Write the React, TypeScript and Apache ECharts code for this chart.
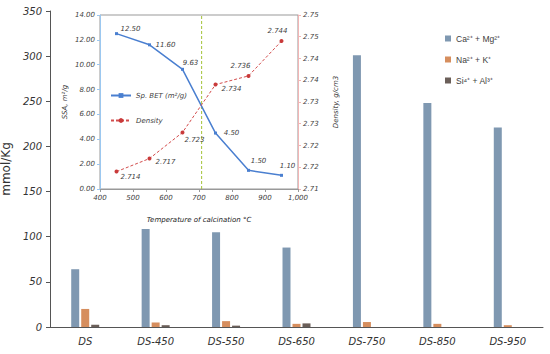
import React, { useEffect, useRef } from "react";
import * as echarts from "echarts";

const categories = ["DS", "DS-450", "DS-550", "DS-650", "DS-750", "DS-850", "DS-950"];
const caMg = [64, 108.5, 105, 88, 301, 248, 221];
const naK = [20, 5, 6.5, 3.5, 5.5, 3.5, 2];
const siAl = [2.5, 2, 1.5, 4, 0, 0, 0];
const seriesNames = ["Ca²⁺ + Mg²⁺", "Na²⁺ + K⁺", "Si⁴⁺ + Al³⁺"];
const mainTicks = [0, 50, 100, 150, 200, 250, 300, 350];

const temps = [450, 550, 650, 750, 850, 950];
const ssa = [12.5, 11.6, 9.63, 4.5, 1.5, 1.1];
const density = [2.714, 2.717, 2.723, 2.734, 2.736, 2.744];
const ssaLabels = ["12.50", "11.60", "9.63", "4.50", "1.50", "1.10"];
const densityLabels = ["2.714", "2.717", "2.723", "2.734", "2.736", "2.744"];
const crossTemp = 708;
const ssaRange = [0, 14];

const ssaLabelOffsets: [number, number][] = [
  [14, -5], [16, 0], [8, -6], [16, 0], [10, -9], [6, -9],
];
const densityLabelOffsets: [number, number][] = [
  [14, 5], [16, 3], [12, 8], [16, 4], [-8, -10], [-4, -10],
];

const FONT = "DejaVu Sans";

export default function App() {
  const ref = useRef<HTMLDivElement>(null);
  useEffect(() => {
    if (!ref.current) return;
    const chart = echarts.init(ref.current, null, { renderer: "svg" });
    const inLabel = { fontFamily: FONT, fontStyle: "italic" as const, fontSize: 7, color: "#404040" };
    chart.setOption({
      animation: false,
      backgroundColor: "#fff",
      legend: [
        {
          data: seriesNames,
          orient: "vertical",
          left: 440,
          top: 29,
          itemWidth: 6,
          itemHeight: 6,
          itemGap: 12,
          icon: "rect",
          textStyle: { fontFamily: "Liberation Sans", fontSize: 8.5, color: "#404040" },
        },
        {
          data: ["Sp. BET (m²/g)", "Density"],
          orient: "vertical",
          left: 105,
          top: 87,
          itemWidth: 20,
          itemHeight: 6,
          itemGap: 18,
          textStyle: { ...inLabel, fontSize: 7 },
        },
      ],
      grid: [
        { left: 50, top: 11, width: 493, height: 316, outerBoundsMode: "none", containLabel: false },
        {
          left: 100, top: 15, width: 198, height: 174, outerBoundsMode: "none", containLabel: false,
          show: true, borderColor: "#999", borderWidth: 1, backgroundColor: "transparent",
        },
      ],
      xAxis: [
        {
          type: "category",
          gridIndex: 0,
          data: categories,
          axisLine: { lineStyle: { color: "#555" } },
          axisTick: { length: 4, lineStyle: { color: "#555" } },
          axisLabel: { fontFamily: FONT, fontStyle: "italic", fontSize: 10, color: "#333", margin: 9 },
        },
        {
          type: "value",
          gridIndex: 1,
          min: 400,
          max: 1000,
          interval: 100,
          name: "Temperature of calcination °C",
          nameLocation: "middle",
          nameGap: 27,
          nameTextStyle: { ...inLabel, fontSize: 7, color: "#222" },
          splitLine: { show: false },
          axisLine: { lineStyle: { color: "#999" } },
          axisTick: { length: 3, lineStyle: { color: "#999" } },
          axisLabel: { ...inLabel, margin: 5 },
        },
      ],
      yAxis: [
        {
          type: "value",
          gridIndex: 0,
          min: mainTicks[0],
          max: mainTicks[mainTicks.length - 1],
          interval: 50,
          name: "mmol/Kg",
          nameLocation: "middle",
          nameGap: 36,
          nameTextStyle: { fontFamily: FONT, fontSize: 12, color: "#333" },
          splitLine: { show: false },
          axisLine: { show: true, lineStyle: { color: "#555" } },
          axisTick: { show: true, length: 4, lineStyle: { color: "#555" } },
          axisLabel: { fontFamily: FONT, fontStyle: "italic", fontSize: 10, color: "#333", margin: 8 },
        },
        {
          type: "value",
          gridIndex: 1,
          min: ssaRange[0],
          max: ssaRange[1],
          interval: 2,
          name: "SSA, m²/g",
          nameLocation: "middle",
          nameGap: 32,
          nameTextStyle: { ...inLabel, fontSize: 7 },
          splitLine: { show: false },
          axisLine: { show: true, lineStyle: { color: "#9cc8f0" } },
          axisTick: { show: true, length: 3, lineStyle: { color: "#9cc8f0" } },
          axisLabel: { ...inLabel, margin: 5, formatter: (v: number) => v.toFixed(2) },
        },
        {
          type: "value",
          gridIndex: 1,
          position: "right",
          min: 2.71,
          max: 2.75,
          interval: 0.005,
          name: "Density, g/cm3",
          nameLocation: "middle",
          nameGap: 34,
          nameRotate: 90,
          nameTextStyle: { ...inLabel, fontSize: 7 },
          splitLine: { show: false },
          axisLine: { show: true, lineStyle: { color: "#f2b5b5" } },
          axisTick: { show: true, length: 3, lineStyle: { color: "#f2b5b5" } },
          axisLabel: { ...inLabel, margin: 5, formatter: (v: number) => (Math.round(v * 100 + 1e-6) / 100).toFixed(2) },
        },
      ],
      series: [
        {
          name: seriesNames[0],
          type: "bar",
          xAxisIndex: 0,
          yAxisIndex: 0,
          data: caMg,
          barWidth: 8,
          barGap: "25%",
          itemStyle: { color: "#7f98b1" },
        },
        {
          name: seriesNames[1],
          type: "bar",
          xAxisIndex: 0,
          yAxisIndex: 0,
          data: naK,
          barWidth: 8,
          barGap: "25%",
          itemStyle: { color: "#d68e5e" },
        },
        {
          name: seriesNames[2],
          type: "bar",
          xAxisIndex: 0,
          yAxisIndex: 0,
          data: siAl,
          barWidth: 8,
          barGap: "25%",
          itemStyle: { color: "#6b5f59" },
        },
        {
          name: "crossing",
          type: "line",
          xAxisIndex: 1,
          yAxisIndex: 1,
          data: [[crossTemp, ssaRange[0]], [crossTemp, ssaRange[1]]],
          symbol: "none",
          silent: true,
          lineStyle: { color: "#a3c236", width: 1, type: [3, 2] },
          itemStyle: { color: "#a3c236" },
          z: 1,
        },
        {
          name: "Sp. BET (m²/g)",
          type: "line",
          xAxisIndex: 1,
          yAxisIndex: 1,
          data: temps.map((t, i) => ({
            value: [t, ssa[i]],
            label: { offset: ssaLabelOffsets[i] },
          })),
          symbol: "rect",
          symbolSize: 3,
          lineStyle: { color: "#4a7fd0", width: 1.5 },
          itemStyle: { color: "#4a7fd0" },
          label: {
            show: true,
            position: "inside",
            ...inLabel,
            formatter: (p: any) => ssaLabels[p.dataIndex],
          },
        },
        {
          name: "Density",
          type: "line",
          xAxisIndex: 1,
          yAxisIndex: 2,
          data: temps.map((t, i) => ({
            value: [t, density[i]],
            label: { offset: densityLabelOffsets[i] },
          })),
          symbol: "circle",
          symbolSize: 4,
          lineStyle: { color: "#d24c4c", width: 1, type: [3, 2] },
          itemStyle: { color: "#c93a3a" },
          label: {
            show: true,
            position: "inside",
            ...inLabel,
            formatter: (p: any) => densityLabels[p.dataIndex],
          },
        },
      ],
    });
    return () => chart.dispose();
  }, []);
  return <div ref={ref} style={{ width: 550, height: 354, position: "absolute", left: 0, top: 0 }} />;
}
